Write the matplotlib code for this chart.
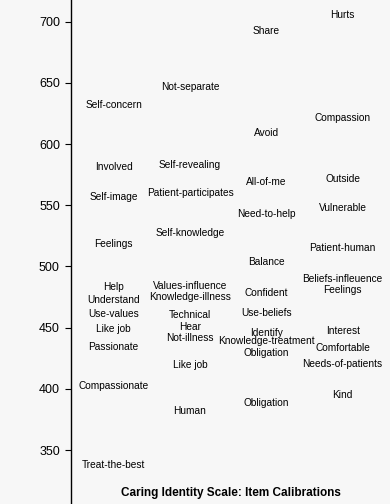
import matplotlib
matplotlib.use("Agg")
import matplotlib.pyplot as plt

# item labels and calibrations, one list per column
col1_labels = ["Self-concern", "Involved", "Self-image", "Feelings", "Help", "Understand",
               "Use-values", "Like job", "Passionate", "Compassionate", "Treat-the-best"]
col1_values = [631.9, 581.0, 557.0, 518.1, 483.4, 472.6, 460.9, 448.6, 434.4, 402.3, 337.5]

col2_labels = ["Not-separate", "Self-revealing", "Patient-participates", "Self-knowledge",
               "Values-influence", "Knowledge-illness", "Technical", "Hear", "Not-illness",
               "Like job", "Human"]
col2_values = [646.6, 582.9, 560.3, 527.6, 484.0, 474.8, 460.3, 450.3, 441.8, 419.2, 382.1]

col3_labels = ["Share", "Avoid", "All-of-me", "Need-to-help", "Balance", "Confident",
               "Use-beliefs", "Identify", "Knowledge-treatment", "Obligation", "Obligation"]
col3_values = [692.4, 608.8, 569.3, 542.9, 503.9, 478.5, 461.7, 445.4, 439.1, 429.5, 388.7]

col4_labels = ["Hurts", "Compassion", "Outside", "Vulnerable", "Patient-human",
               "Beliefs-infleuence", "Feelings", "Interest", "Comfortable",
               "Needs-of-patients", "Kind"]
col4_values = [705.5, 621.6, 571.5, 547.5, 514.8, 489.7, 480.7, 447.5, 433.6, 420.0, 395.0]

yticks = [350, 400, 450, 500, 550, 600, 650, 700]

columns = [(col1_labels, col1_values), (col2_labels, col2_values),
           (col3_labels, col3_values), (col4_labels, col4_values)]

bg = "#f7f7f7"
fig = plt.figure(figsize=(3.9, 5.04), dpi=100, facecolor=bg)
ax = fig.add_axes([71 / 390, 0, 319 / 390, 1], facecolor=bg)

label_font = ["Liberation Sans Narrow", "Liberation Sans", "DejaVu Sans"]
for i, (labels, values) in enumerate(columns, start=1):
    for lab, val in zip(labels, values):
        ax.text(i, val, lab, ha="center", va="center", fontsize=7.3,
                family=label_font, color="black")

ax.set_xlim(0.44, 4.62)
ax.set_ylim(305.9, 717.7)
ax.set_xticks([])
ax.set_yticks(yticks)
ax.set_yticklabels([str(t) for t in yticks], family=["Liberation Sans", "DejaVu Sans"],
                   fontsize=9)
ax.tick_params(axis="y", direction="out", length=4, width=0.8, pad=4)
for side in ["top", "right", "bottom"]:
    ax.spines[side].set_visible(False)
ax.spines["left"].set_linewidth(1)

ax.text(0.5, 11 / 504, "Caring Identity Scale: Item Calibrations", transform=ax.transAxes,
        ha="center", va="center", fontsize=8.5, fontweight="bold",
        family=["Liberation Sans", "DejaVu Sans"])

fig.savefig("out.png", dpi=100, facecolor=bg)
